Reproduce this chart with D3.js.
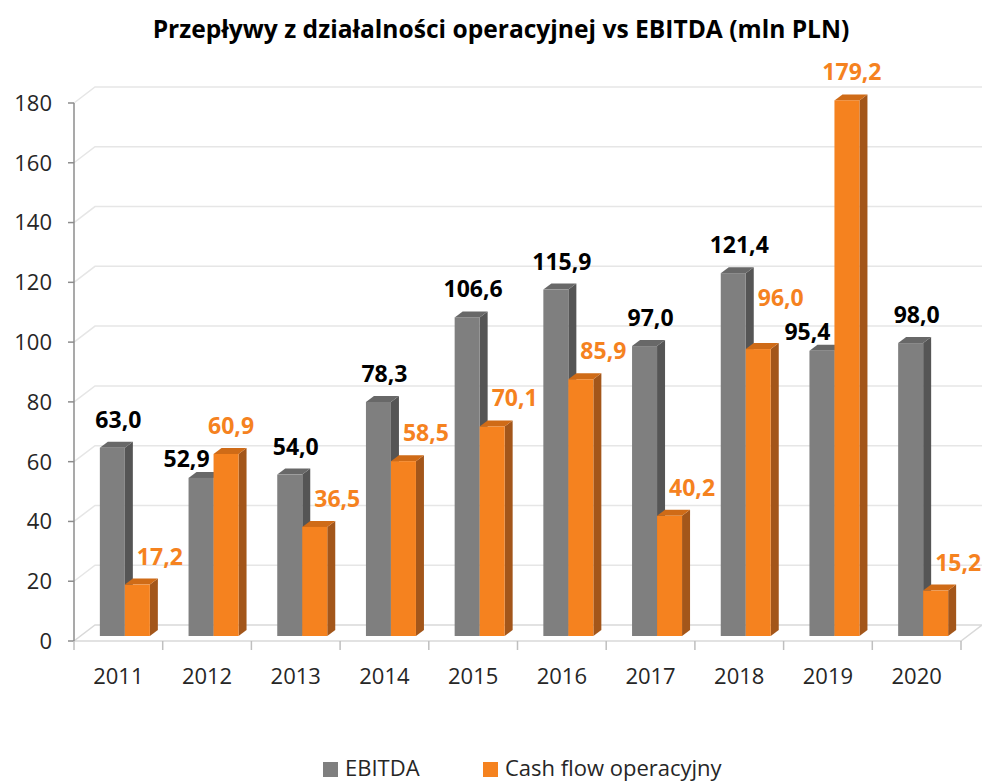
<!DOCTYPE html>
<html>
<head>
<meta charset="utf-8">
<script src="https://cdn.jsdelivr.net/npm/d3@7"></script>
<style>
  body { margin: 0; background: #fff; }
  text { font-family: "Open Sans", sans-serif; }
</style>
</head>
<body>
<div id="container"></div>
<script>
const years = ["2011", "2012", "2013", "2014", "2015", "2016", "2017", "2018", "2019", "2020"];
const ebitda = [63.0, 52.9, 54.0, 78.3, 106.6, 115.9, 97.0, 121.4, 95.4, 98.0];
const cashFlow = [17.2, 60.9, 36.5, 58.5, 70.1, 85.9, 40.2, 96.0, 179.2, 15.2];
const yTicks = [0, 20, 40, 60, 80, 100, 120, 140, 160, 180];
const seriesNames = ["EBITDA", "Cash flow operacyjny"];

const chartW = 982, chartH = 782;
const plotLeft = 74, plotRight = 961, plotBottom = 641, plotTop = 103;
const depth = [21, -16];     // floor depth offset
const barDepth = [8, -6];    // bar thickness offset
const barShift = [6.5, -5];  // bars sit a bit behind the front plane

const colors = {
  gray: { front: "#7f7f7f", side: "#555555", top: "#686868", label: "#000000" },
  orange: { front: "#f5821f", side: "#a3561a", top: "#cf6b17", label: "#f5821f" }
};

const svg = d3.select("#container").append("svg")
  .attr("width", chartW)
  .attr("height", chartH);

const x = d3.scaleBand().domain(years).range([plotLeft, plotRight]).paddingInner(0).paddingOuter(0);
const inner = d3.scaleBand().domain([0, 1]).range([0, 50]);
const y = d3.scaleLinear().domain([0, 180]).range([plotBottom, plotTop]);

const fmt = v => d3.format(".1f")(v).replace(".", ",");

// title
const title = svg.append("text")
  .attr("x", 501).attr("y", 38)
  .attr("text-anchor", "middle")
  .attr("font-weight", "bold")
  .attr("font-size", 24)
  .attr("fill", "#000")
  .text("Przepływy z działalności operacyjnej vs EBITDA (mln PLN)");
const tw = title.node().getComputedTextLength();
title.attr("font-size", 24 * 697 / tw);

// floor
const floor = [[plotLeft, plotBottom], [plotRight, plotBottom],
  [plotRight + depth[0], plotBottom + depth[1]], [plotLeft + depth[0], plotBottom + depth[1]]];
svg.append("path")
  .attr("d", "M" + floor.join("L") + "Z")
  .attr("fill", "#fff")
  .attr("stroke", "#d9d9d9")
  .attr("stroke-width", 1.5);

// gridlines on back wall and left wall
yTicks.filter(t => t > 0).forEach(t => {
  const yy = y(t);
  svg.append("path")
    .attr("d", `M${plotLeft},${yy}L${plotLeft + depth[0]},${yy + depth[1]}L${plotRight + depth[0]},${yy + depth[1]}`)
    .attr("fill", "none")
    .attr("stroke", "#e6e6e6")
    .attr("stroke-width", 1.5);
});

// vertical axis
svg.append("line")
  .attr("x1", plotLeft).attr("x2", plotLeft)
  .attr("y1", y(180)).attr("y2", plotBottom)
  .attr("stroke", "#8c8c8c").attr("stroke-width", 1.5);

svg.selectAll(".ytick").data(yTicks).enter().append("line")
  .attr("x1", plotLeft - 6).attr("x2", plotLeft)
  .attr("y1", d => y(d)).attr("y2", d => y(d))
  .attr("stroke", "#8c8c8c").attr("stroke-width", 1.5);

svg.selectAll(".ylabel").data(yTicks).enter().append("text")
  .attr("x", 52).attr("y", d => y(d))
  .attr("dy", "0.36em")
  .attr("text-anchor", "end")
  .attr("font-size", 22)
  .attr("fill", "#262626")
  .text(d => d);

// category ticks
const boundaries = years.map(d => x(d)).concat([plotRight]);
svg.selectAll(".xtick").data(boundaries).enter().append("line")
  .attr("x1", d => d).attr("x2", d => d)
  .attr("y1", plotBottom).attr("y2", plotBottom + 9)
  .attr("stroke", "#bfbfbf").attr("stroke-width", 1.5);

svg.selectAll(".xlabel").data(years).enter().append("text")
  .attr("x", d => x(d) + x.bandwidth() / 2)
  .attr("y", 684)
  .attr("text-anchor", "middle")
  .attr("font-size", 22)
  .attr("fill", "#262626")
  .text(d => d);

// bars
function bar(g, xl, w, v, c) {
  const yb = y(0) + barShift[1];
  const yt = y(v) + barShift[1];
  const xr = xl + w;
  const [dx, dy] = barDepth;
  g.append("path")
    .attr("d", `M${xr},${yt}L${xr + dx},${yt + dy}L${xr + dx},${yb + dy}L${xr},${yb}Z`)
    .attr("fill", c.side);
  g.append("path")
    .attr("d", `M${xl},${yt}L${xr},${yt}L${xr + dx},${yt + dy}L${xl + dx},${yt + dy}Z`)
    .attr("fill", c.top);
  g.append("rect")
    .attr("x", xl).attr("y", yt)
    .attr("width", w).attr("height", yb - yt)
    .attr("fill", c.front);
  return yt;
}

const barsG = svg.append("g");
const labelsG = svg.append("g");
const off = (x.bandwidth() - 50) / 2 + barShift[0];
const grayLabels = [], orangeLabels = [];

years.forEach((yr, i) => {
  const g = barsG.append("g");
  const x0 = x(yr) + off;
  const xc = x(yr) + x.bandwidth() / 2;
  const tg = bar(g, x0 + inner(0), inner.bandwidth(), ebitda[i], colors.gray);
  const to = bar(g, x0 + inner(1), inner.bandwidth(), cashFlow[i], colors.orange);

  const taller = cashFlow[i] > ebitda[i];
  const gl = labelsG.append("text")
    .attr("font-weight", "bold").attr("font-size", 23)
    .attr("fill", colors.gray.label)
    .attr("text-anchor", "middle")
    .text(fmt(ebitda[i]));
  if (taller) {
    const w = gl.node().getComputedTextLength();
    gl.attr("x", x0 + inner(1) - 4 - w / 2).attr("y", tg - 11);
  } else {
    gl.attr("x", xc).attr("y", tg - 20);
  }
  grayLabels.push(gl);

  const ol = labelsG.append("text")
    .attr("y", to - 20)
    .attr("font-weight", "bold").attr("font-size", 23)
    .attr("fill", colors.orange.label)
    .text(fmt(cashFlow[i]));
  if (taller) {
    ol.attr("x", xc + 24).attr("text-anchor", "middle");
  } else {
    ol.attr("x", x0 + inner(1) + 12).attr("text-anchor", "start");
  }
  orangeLabels.push(ol);
});

// push orange labels up when they collide with a neighbouring label
function boxesHit(a, b) {
  return a.x < b.x + b.width && b.x < a.x + a.width && a.y < b.y + b.height && b.y < a.y + a.height;
}
orangeLabels.forEach(ol => {
  grayLabels.forEach(gl => {
    const a = ol.node().getBBox(), b = gl.node().getBBox();
    if (boxesHit(a, b)) {
      const shift = (a.y + a.height) - b.y + 2;
      ol.attr("y", +ol.attr("y") - shift);
    }
  });
});

// legend
const legend = [
  { name: seriesNames[0], color: colors.gray.front, x: 323 },
  { name: seriesNames[1], color: colors.orange.front, x: 483 }
];
const lg = svg.selectAll(".legend").data(legend).enter().append("g");
lg.append("rect")
  .attr("x", d => d.x).attr("y", 762)
  .attr("width", 15).attr("height", 15)
  .attr("fill", d => d.color);
lg.append("text")
  .attr("x", d => d.x + 22).attr("y", 776)
  .attr("font-size", 22)
  .attr("fill", "#262626")
  .text(d => d.name);
</script>
</body>
</html>
